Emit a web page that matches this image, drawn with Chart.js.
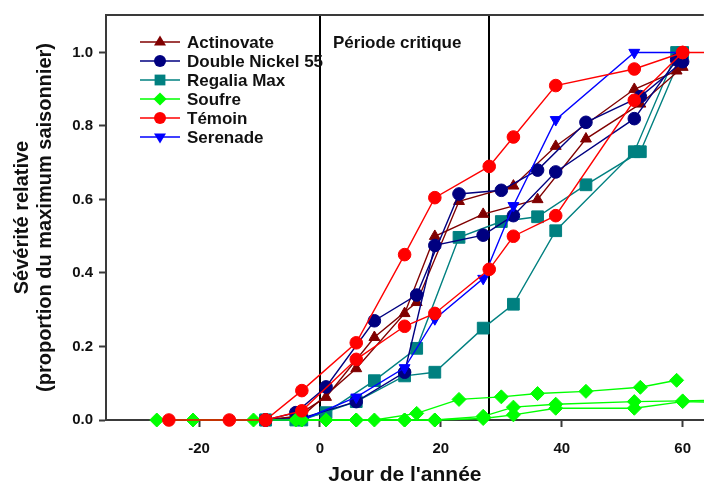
<!DOCTYPE html>
<html lang="fr">
<head>
<meta charset="UTF-8">
<title>Sévérité relative</title>
<style>
    html, body { margin: 0; padding: 0; background: #fff; }
    #wrap { width: 704px; height: 487px; position: relative; }
</style>
</head>
<body>
<div id="wrap"><canvas id="chart"></canvas></div>

<script src="https://cdn.jsdelivr.net/npm/chart.js"></script>
<script>
    // valeurs : jour de l'année / sévérité relative
    const actinovateDays1 = [-9, -4, 1, 9, 16, 23, 32, 39, 52, 59];
    const actinovateVals1 = [0, 0.01, 0.062, 0.225, 0.32, 0.595, 0.637, 0.745, 0.90, 0.95];
    const actinovateDays2 = [-9, -3, 6, 14, 19, 27, 36, 44, 53, 60];
    const actinovateVals2 = [0, 0.01, 0.14, 0.29, 0.50, 0.56, 0.60, 0.765, 0.86, 0.96];

    const nickelDays1 = [-9, -4, 1, 9, 16, 23, 30, 36, 44, 53, 60];
    const nickelVals1 = [0, 0.02, 0.09, 0.27, 0.34, 0.615, 0.625, 0.68, 0.81, 0.88, 0.975];
    const nickelDays2 = [-9, -3, 6, 14, 19, 27, 32, 39, 52, 59];
    const nickelVals2 = [0, 0.005, 0.05, 0.13, 0.475, 0.503, 0.556, 0.675, 0.82, 0.98];

    const regaliaDays1 = [-9, -3, 6, 14, 19, 27, 32, 39, 52, 59];
    const regaliaVals1 = [0, 0, 0.05, 0.12, 0.13, 0.25, 0.315, 0.515, 0.73, 1.0];
    const regaliaDays2 = [-9, -4, 1, 9, 16, 23, 30, 36, 44, 53, 60];
    const regaliaVals2 = [0, 0, 0.02, 0.107, 0.195, 0.497, 0.54, 0.553, 0.64, 0.73, 1.0];

    const soufreDays1 = [-27, -21, -11, -4, 1, 9, 16, 23, 30, 36, 44, 53, 59];
    const soufreVals1 = [0, 0, 0, 0, 0, 0, 0.018, 0.056, 0.063, 0.072, 0.078, 0.089, 0.108];
    const soufreDays2 = [-3, 6, 14, 19, 27, 32, 39, 52, 60, 66];
    const soufreVals2 = [0, 0, 0, 0, 0.01, 0.035, 0.043, 0.05, 0.052, 0.054];
    const soufreDays3 = [-3, 6, 14, 19, 27, 32, 39, 52, 60, 66];
    const soufreVals3 = [0, 0, 0, 0, 0.004, 0.014, 0.032, 0.032, 0.05, 0.048];

    const temoinDays1 = [-25, -15, -9, -3, 6, 14, 19, 28, 32, 39, 52, 60, 66];
    const temoinVals1 = [0, 0, 0, 0.08, 0.21, 0.45, 0.605, 0.69, 0.77, 0.91, 0.955, 1.0, 1.0];
    const temoinDays2 = [-9, -3, 6, 14, 19, 28, 32, 39, 52, 60];
    const temoinVals2 = [0, 0.025, 0.165, 0.255, 0.29, 0.41, 0.50, 0.556, 0.87, 1.0];

    const serenadeDays = [-9, -3, 6, 14, 19, 27, 32, 39, 52, 60];
    const serenadeVals = [0, 0, 0.062, 0.142, 0.275, 0.385, 0.583, 0.817, 1.0, 1.0];

    const legendNames = ['Actinovate', 'Double Nickel 55', 'Regalia Max', 'Soufre', 'Témoin', 'Serenade'];
    const xTicks = [-20, 0, 20, 40, 60];
    const yTicks = [0, 0.2, 0.4, 0.6, 0.8, 1.0];
    const critiqueBounds = [0, 28];

    const X_MIN = -35.4, X_MAX = 63.5, Y_MAX = 1.102;
    const FONT = 'Arial, "Liberation Sans", sans-serif';

    // couleur, marqueur, taille, ordre de dessin (0 = au-dessus)
    const styles = {
        'Actinovate':       { color: '#800000', point: 'triangle', rot: 0,   size: 6.3, order: 4 },
        'Double Nickel 55': { color: '#000080', point: 'circle',   rot: 0,   size: 6.3, order: 3 },
        'Regalia Max':      { color: '#008080', point: 'rect',     rot: 0,   size: 8.3, order: 5 },
        'Soufre':           { color: '#00ff00', point: 'rectRot',  rot: 0,   size: 7,   order: 1 },
        'Témoin':           { color: '#ff0000', point: 'circle',   rot: 0,   size: 6.3, order: 0 },
        'Serenade':         { color: '#0000ff', point: 'triangle', rot: 180, size: 6.3, order: 2 }
    };

    function serie(name, days, vals) {
        const s = styles[name];
        return {
            label: name,
            data: days.map((d, i) => ({ x: d, y: vals[i] })),
            borderColor: s.color,
            backgroundColor: s.color,
            borderWidth: 1.4,
            pointStyle: s.point,
            pointRotation: s.rot,
            pointRadius: ctx => (ctx.raw && ctx.raw.x > X_MAX) ? 0 : s.size,
            pointBorderWidth: 1,
            tension: 0,
            clip: false,
            order: s.order
        };
    }

    const datasets = [
        serie('Actinovate', actinovateDays1, actinovateVals1),
        serie('Actinovate', actinovateDays2, actinovateVals2),
        serie('Double Nickel 55', nickelDays1, nickelVals1),
        serie('Double Nickel 55', nickelDays2, nickelVals2),
        serie('Regalia Max', regaliaDays1, regaliaVals1),
        serie('Regalia Max', regaliaDays2, regaliaVals2),
        serie('Soufre', soufreDays1, soufreVals1),
        serie('Soufre', soufreDays2, soufreVals2),
        serie('Soufre', soufreDays3, soufreVals3),
        serie('Témoin', temoinDays1, temoinVals1),
        serie('Témoin', temoinDays2, temoinVals2),
        serie('Serenade', serenadeDays, serenadeVals)
    ];

    // petit marqueur pour la légende
    function marker(ctx, style, x, y, r) {
        ctx.beginPath();
        if (style.point === 'circle') {
            ctx.arc(x, y, r, 0, Math.PI * 2);
        } else if (style.point === 'rect') {
            ctx.rect(x - r * 0.9, y - r * 0.9, r * 1.8, r * 1.8);
        } else if (style.point === 'rectRot') {
            ctx.moveTo(x, y - r * 1.1); ctx.lineTo(x + r * 1.1, y);
            ctx.lineTo(x, y + r * 1.1); ctx.lineTo(x - r * 1.1, y);
        } else {
            const k = style.rot === 180 ? -1 : 1;
            ctx.moveTo(x, y - k * r * 1.1);
            ctx.lineTo(x + r * 1.0, y + k * r * 0.6);
            ctx.lineTo(x - r * 1.0, y + k * r * 0.6);
        }
        ctx.closePath();
        ctx.fill();
    }

    const decor = {
        id: 'decor',
        beforeDatasetsDraw(chart) {
            const { ctx, chartArea: a, scales: { x } } = chart;
            ctx.save();
            ctx.strokeStyle = '#000';
            ctx.lineWidth = 2;
            critiqueBounds.forEach(d => {
                const px = Math.round(x.getPixelForValue(d));
                ctx.beginPath();
                ctx.moveTo(px, a.top);
                ctx.lineTo(px, a.bottom);
                ctx.stroke();
            });
            ctx.strokeStyle = '#3a3a3a';
            ctx.beginPath();
            ctx.moveTo(a.left - 1, a.top);
            ctx.lineTo(a.right, a.top);
            ctx.stroke();
            ctx.restore();
        },
        afterDatasetsDraw(chart) {
            const { ctx, scales: { x } } = chart;
            ctx.save();
            ctx.font = 'bold 17px ' + FONT;
            ctx.fillStyle = '#111';
            ctx.textBaseline = 'middle';
            ctx.fillText('Période critique', x.getPixelForValue(critiqueBounds[0]) + 13, 43);

            legendNames.forEach((name, i) => {
                const s = styles[name];
                const y = 42 + i * 19;
                ctx.strokeStyle = s.color;
                ctx.fillStyle = s.color;
                ctx.lineWidth = 1.6;
                ctx.beginPath();
                ctx.moveTo(140, y);
                ctx.lineTo(180, y);
                ctx.stroke();
                marker(ctx, s, 160, y, 6);
                ctx.fillStyle = '#111';
                ctx.fillText(name, 187, y + 1);
            });
            ctx.restore();
        }
    };

    new Chart(document.getElementById('chart'), {
        type: 'line',
        data: { datasets },
        options: {
            responsive: true,
            maintainAspectRatio: false,
            animation: false,
            layout: { autoPadding: false, padding: { top: 10, right: 0, bottom: 0, left: 0 } },
            plugins: { legend: { display: false }, tooltip: { enabled: false } },
            scales: {
                x: {
                    type: 'linear',
                    min: X_MIN,
                    max: X_MAX,
                    afterBuildTicks: s => { s.ticks = xTicks.map(v => ({ value: v })); },
                    afterFit: s => { s.height = 67; },
                    grid: { drawOnChartArea: false, drawTicks: true, tickLength: 7, tickColor: '#3a3a3a', tickWidth: 2 },
                    border: { display: true, color: '#3a3a3a', width: 2 },
                    ticks: { color: '#111', padding: 13, font: { family: FONT, size: 15, weight: 'bold' } },
                    title: {
                        display: true,
                        text: "Jour de l'année",
                        color: '#111',
                        padding: { top: 0, bottom: 0 },
                        font: { family: FONT, size: 21, weight: 'bold', lineHeight: 1.15 }
                    }
                },
                y: {
                    min: 0,
                    max: Y_MAX,
                    afterBuildTicks: s => { s.ticks = yTicks.map(v => ({ value: v })); },
                    afterFit: s => { s.width = 106; },
                    grid: { drawOnChartArea: false, drawTicks: true, tickLength: 7, tickColor: '#3a3a3a', tickWidth: 2 },
                    border: { display: true, color: '#3a3a3a', width: 2 },
                    ticks: {
                        color: '#111',
                        padding: 6,
                        font: { family: FONT, size: 15, weight: 'bold' },
                        callback: v => v.toFixed(1)
                    },
                    title: {
                        display: true,
                        text: ['Sévérité relative', '(proportion du maximum saisonnier)'],
                        color: '#111',
                        padding: { top: 11, bottom: 0 },
                        font: { family: FONT, size: 20, weight: 'bold', lineHeight: 1.15 }
                    }
                }
            }
        },
        plugins: [decor]
    });
</script>
</body>
</html>
